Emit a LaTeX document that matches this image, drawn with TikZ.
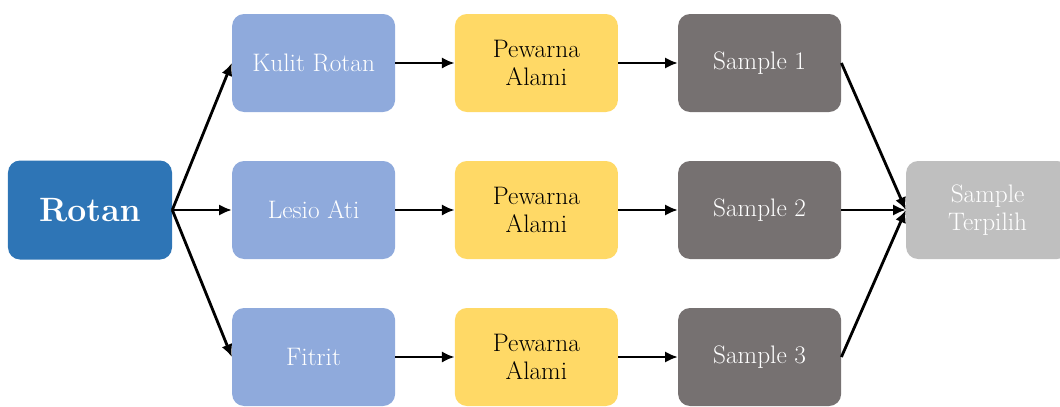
\documentclass[tikz,border=0pt]{standalone}
\usepackage{fontspec}
\usepackage{xcolor}
\usepackage{tikz}
\usetikzlibrary{arrows.meta,positioning}
\definecolor{rotanblue}{RGB}{46,117,182}
\definecolor{skinblue}{RGB}{143,170,220}
\definecolor{dyeyellow}{RGB}{255,217,102}
\definecolor{samplegray}{RGB}{118,113,113}
\definecolor{pickgray}{RGB}{191,191,191}
\begin{document}
\begin{tikzpicture}[>={Latex[length=9pt,width=8pt]},every node/.style={font=\fontsize{18}{20}\selectfont}]
\tikzstyle{box}=[rectangle,rounded corners=3mm,minimum width=4.075cm,minimum height=2.45cm,text=white,align=center,inner sep=2pt]
\useasboundingbox (0,0) rectangle (26.5,10.15);
\node[box,fill=rotanblue,minimum width=4.1cm,minimum height=2.475cm,font=\bfseries\fontsize{24}{28}\selectfont] (r) at (2.25,4.9) {Rotan};
\foreach \i/\y/\t in {1/8.575/Kulit Rotan,2/4.9/Lesio Ati,3/1.225/Fitrit}{\node[box,fill=skinblue] (b\i) at (7.84,\y) {\t};}
\foreach \i/\y in {1/8.575,2/4.9,3/1.225}{\node[box,fill=dyeyellow,text=black] (p\i) at (13.41,\y) {Pewarna\\Alami};}
\foreach \i/\y in {1/8.575,2/4.9,3/1.225}{\node[box,fill=samplegray] (s\i) at (18.99,\y) {Sample \i};}
\node[box,fill=pickgray] (t) at (24.69,4.9) {Sample\\Terpilih};
\foreach \i in {1,2,3}{\draw[->,line width=2pt] (r.east)--(b\i.west);}
\foreach \i in {1,2,3}{\draw[->,line width=2pt] (b\i)--(p\i);}
\foreach \i in {1,2,3}{\draw[->,line width=2pt] (p\i)--(s\i);}
\foreach \i in {1,2,3}{\draw[->,line width=2pt] (s\i.east)--(t.west);}
\end{tikzpicture}
\end{document}
